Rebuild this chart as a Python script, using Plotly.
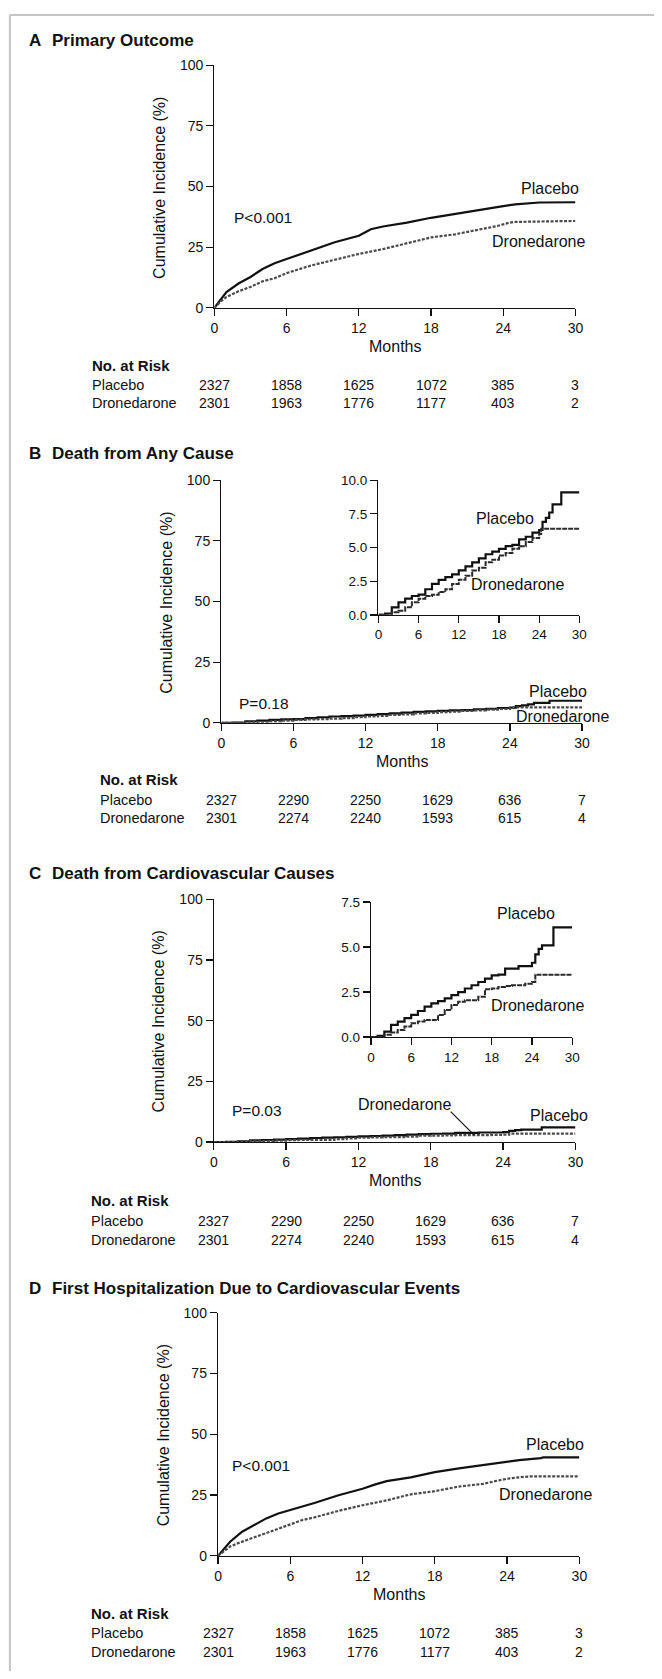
import plotly.graph_objects as go

# ---------------- data ----------------
month_ticks = [0, 6, 12, 18, 24, 30]
pct_ticks = [0, 25, 50, 75, 100]
inset_b_ticks = [0, 2.5, 5, 7.5, 10]
inset_b_text = ["0.0", "2.5", "5.0", "7.5", "10.0"]
inset_c_ticks = [0, 2.5, 5, 7.5]
inset_c_text = ["0.0", "2.5", "5.0", "7.5"]

# A: Primary outcome
a_plac_t = [0, 0.5, 1, 2, 3, 4, 5, 6, 8, 10, 12, 13, 14, 16, 18, 20, 22, 24, 25, 27, 30]
a_plac_v = [0, 3.3, 6.5, 10, 12.7, 16, 18.4, 20.1, 23.5, 27, 29.7, 32.4, 33.5, 35.1, 37.1, 38.8, 40.5, 41.9, 42.6, 43.4, 43.5]
a_dron_t = [0, 0.5, 1, 1.5, 2, 3, 4, 5, 6, 8, 10, 12, 14, 16, 18, 20, 22, 23.5, 24.5, 25, 30]
a_dron_v = [0, 2.5, 4.5, 5.8, 6.8, 8.6, 10.9, 12.2, 14.3, 17.4, 19.9, 22.2, 24.2, 26.7, 29, 30.3, 32.1, 33.7, 35.1, 35.4, 35.8]

# B: Death from any cause
b_plac_t = [0, 1, 2, 3, 4, 5, 6, 7, 8, 9, 10, 11, 12, 13, 14, 15, 16, 17, 18, 19, 20, 21, 22, 23, 24, 24.5, 25, 25.5, 26, 27.3, 30]
b_plac_v = [0, 0.1, 0.56, 0.93, 1.2, 1.4, 1.5, 1.9, 2.3, 2.6, 2.8, 3.0, 3.3, 3.6, 3.9, 4.2, 4.5, 4.7, 4.9, 5.1, 5.2, 5.6, 5.8, 6.1, 6.3, 6.9, 7.2, 7.6, 8.2, 9.1, 9.1]
b_dron_t = [0, 1, 2, 3, 4, 5, 6, 7, 8, 9, 10, 11, 12, 13, 14, 15, 16, 17, 18, 19, 20, 21, 22, 23, 24, 24.3, 30]
b_dron_v = [0, 0, 0.2, 0.3, 0.56, 0.93, 1.2, 1.4, 1.5, 1.7, 1.9, 2.3, 2.6, 2.9, 3.3, 3.5, 3.9, 4.1, 4.4, 4.6, 4.9, 5.1, 5.4, 5.7, 6.0, 6.4, 6.4]

# C: Death from cardiovascular causes
c_plac_t = [0, 1, 2, 3, 4, 5, 6, 7, 8, 9, 10, 11, 12, 13, 14, 15, 16, 17, 18, 19, 20, 22, 24, 24.5, 25, 25.5, 27.2, 30]
c_plac_v = [0, 0.07, 0.3, 0.68, 0.86, 1.05, 1.23, 1.45, 1.69, 1.87, 2.0, 2.15, 2.33, 2.5, 2.7, 2.88, 3.06, 3.25, 3.43, 3.47, 3.8, 3.94, 4.13, 4.6, 4.9, 5.1, 6.1, 6.1]
c_dron_t = [0, 2, 3, 4, 5, 6, 7, 8, 10, 11, 12, 13, 14, 16, 17, 18, 19, 20, 21, 23, 24, 24.5, 30]
c_dron_v = [0, 0.13, 0.26, 0.4, 0.59, 0.77, 0.86, 0.95, 1.23, 1.5, 1.78, 1.96, 2.05, 2.24, 2.66, 2.7, 2.79, 2.84, 2.88, 2.97, 3.06, 3.47, 3.47]

# D: First hospitalization due to CV events
d_plac_t = [0, 0.5, 1, 2, 3, 4, 5, 6, 8, 10, 12, 13, 14, 16, 18, 20, 22, 24, 25, 26.8, 27, 30]
d_plac_v = [0, 3, 5.8, 9.9, 12.6, 15.4, 17.4, 18.8, 21.7, 24.9, 27.6, 29.3, 30.7, 32.3, 34.4, 36, 37.4, 38.9, 39.4, 40.2, 40.5, 40.5]
d_dron_t = [0, 0.5, 1, 1.5, 2, 3, 4, 5, 6, 7, 8, 10, 12, 14, 16, 18, 20, 22, 23, 24, 25, 26, 30]
d_dron_v = [0, 2, 3.8, 4.9, 5.8, 7.6, 9.5, 11.3, 13, 14.7, 15.8, 18.5, 20.8, 22.8, 25.3, 26.6, 28.5, 29.6, 30.7, 31.7, 32.3, 32.7, 32.7]

# Numbers at risk
risk_ad_plac = [2327, 1858, 1625, 1072, 385, 3]
risk_ad_dron = [2301, 1963, 1776, 1177, 403, 2]
risk_bc_plac = [2327, 2290, 2250, 1629, 636, 7]
risk_bc_dron = [2301, 2274, 2240, 1593, 615, 4]

titles = ["Primary Outcome", "Death from Any Cause",
          "Death from Cardiovascular Causes",
          "First Hospitalization Due to Cardiovascular Events"]
letters = ["A", "B", "C", "D"]
pvalues = ["P<0.001", "P=0.18", "P=0.03", "P<0.001"]

# ---------------- layout helpers ----------------
W, H = 662, 1679
FONT = "Liberation Sans, Arial, sans-serif"
INK = "#111111"
DRON = "#4a4a4a"


def px(x):
    return x / W


def py(y):
    return 1 - y / H


fig = go.Figure()

plac_line = dict(color=INK, width=2.2)
dron_line = dict(color=DRON, width=2.2, dash="3px,1.5px")
dron_line_inset = dict(color="#2a2a2a", width=2.0, dash="5px,1px")


def add_pair(tp, vp, td, vd, xa, ya, shape, dline):
    fig.add_trace(go.Scatter(x=tp, y=vp, mode="lines", line=dict(plac_line, shape=shape),
                             xaxis=xa, yaxis=ya, showlegend=False, hoverinfo="skip"))
    fig.add_trace(go.Scatter(x=td, y=vd, mode="lines", line=dict(dline, shape=shape),
                             xaxis=xa, yaxis=ya, showlegend=False, hoverinfo="skip"))


add_pair(a_plac_t, a_plac_v, a_dron_t, a_dron_v, "x", "y", "linear", dron_line)
add_pair(b_plac_t, b_plac_v, b_dron_t, b_dron_v, "x2", "y2", "hv", dron_line)
add_pair(b_plac_t, b_plac_v, b_dron_t, b_dron_v, "x3", "y3", "hv", dron_line_inset)
add_pair(c_plac_t, c_plac_v, c_dron_t, c_dron_v, "x4", "y4", "hv", dron_line)
add_pair(c_plac_t, c_plac_v, c_dron_t, c_dron_v, "x5", "y5", "hv", dron_line_inset)
add_pair(d_plac_t, d_plac_v, d_dron_t, d_dron_v, "x6", "y6", "linear", dron_line)

axis_common = dict(showline=True, linecolor=INK, linewidth=1.3, ticks="outside", ticklen=7,
                   tickwidth=1.3, tickcolor=INK, showgrid=False, zeroline=False,
                   tickfont=dict(family=FONT, size=14, color=INK), fixedrange=True)

# main panels: (x_left, x_right, y_top, y_bottom) in pixels
panels = [(214.3, 582.0, 57.7, 302.7),
          (221.3, 588.7, 476.7, 721.7),
          (213.7, 582.0, 900.0, 1145.0),
          (218.0, 586.0, 1317.3, 1562.7)]
main_ids = ["", "2", "4", "6"]
insets = [("3", (381.3, 586.0, 476.7, 612.7), [0, 10], inset_b_ticks, inset_b_text),
          ("5", (373.7, 578.7, 902.7, 1039.0), [0, 7.5], inset_c_ticks, inset_c_text)]

layout_axes = {}
for (xl, xr, yt, yb), aid in zip(panels, main_ids):
    layout_axes["xaxis" + aid] = dict(axis_common, domain=[px(xl), px(xr)], anchor="y" + aid,
                                      range=[0, 30], tickvals=month_ticks)
    layout_axes["yaxis" + aid] = dict(axis_common, domain=[py(yb), py(yt)], anchor="x" + aid,
                                      range=[0, 100], tickvals=pct_ticks)
for aid, (xl, xr, yt, yb), rng, tv, tt in insets:
    layout_axes["xaxis" + aid] = dict(axis_common, domain=[px(xl), px(xr)], anchor="y" + aid,
                                      range=[0, 30], tickvals=month_ticks,
                                      tickfont=dict(family=FONT, size=13.5, color=INK))
    layout_axes["yaxis" + aid] = dict(axis_common, domain=[py(yb), py(yt)], anchor="x" + aid,
                                      range=rng, tickvals=tv, ticktext=tt,
                                      tickfont=dict(family=FONT, size=13.5, color=INK))

ann = []


def text(x, y, s, size, anchor="left", bold=False, angle=0):
    ann.append(dict(x=px(x), y=py(y), xref="paper", yref="paper", text=("<b>%s</b>" % s) if bold else s,
                    showarrow=False, xanchor=anchor, yanchor="middle", textangle=angle,
                    font=dict(family=FONT, size=size, color=INK)))


title_y = [32.7, 450.0, 873.5, 1292.7]
risk_x = [87.3, 95.7, 87.0, 86.6]
risk_rows = [(58, 77.5, 96.5), (57.3, 77.6, 96.0), (59, 79.5, 98.5), (58, 78, 97.3)]
risk_sets = [(risk_ad_plac, risk_ad_dron), (risk_bc_plac, risk_bc_dron),
             (risk_bc_plac, risk_bc_dron), (risk_ad_plac, risk_ad_dron)]

for i, ((xl, xr, yt, yb), aid) in enumerate(zip(panels, main_ids)):
    text(23, title_y[i], letters[i], 17, bold=True)
    text(47, title_y[i], titles[i], 17, bold=True)
    text(xl - 56, (yt + yb) / 2 + 1, "Cumulative Incidence (%)", 16, anchor="center", angle=-90)
    text((xl + xr) / 2, yb + 39, "Months", 16, anchor="center")
    r0, r1, r2 = risk_rows[i]
    text(risk_x[i], yb + r0, "No. at Risk", 15, bold=True)
    text(risk_x[i], yb + r1, "Placebo", 14.5)
    text(risk_x[i], yb + r2, "Dronedarone", 14.5)
    rp, rd = risk_sets[i]
    for m, vp, vd in zip(month_ticks, rp, rd):
        for v, off in ((vp, r1), (vd, r2)):
            ann.append(dict(x=m, y=py(yb + off), xref="x" + aid, yref="paper", text=str(v),
                            showarrow=False, xanchor="center", yanchor="middle",
                            font=dict(family=FONT, size=14, color=INK)))

# p-values
for (x, y), s in zip([(231.7, 212.0), (237.0, 701.7), (229.7, 1113.3), (229.7, 1471.7)], pvalues):
    text(x, y, s, 15.5)

# curve labels
for x, y, s in [(524.7, 182.3, "Placebo"), (495.0, 235.3, "Dronedarone"),
                (479.0, 515.7, "Placebo"), (473.7, 582.0, "Dronedarone"),
                (533.0, 690.0, "Placebo"), (519.7, 715.0, "Dronedarone"),
                (500.0, 914.3, "Placebo"), (493.7, 1007.3, "Dronedarone"),
                (358.0, 1106.7, "Dronedarone"), (533.7, 1118.3, "Placebo"),
                (529.7, 1450.0, "Placebo"), (502.0, 1501.0, "Dronedarone")]:
    text(x, y, s, 16)

# leader line from the Dronedarone label to its curve in panel C
ann.append(dict(x=21.6, y=2.9, xref="x4", yref="y4", text="", showarrow=True,
                ax=-25, ay=-25, axref="pixel", ayref="pixel", arrowhead=0,
                arrowwidth=1.2, arrowcolor=INK))

frame = [dict(type="line", xref="paper", yref="paper", x0=px(6), x1=px(6), y0=py(7), y1=0,
              line=dict(color="#c4c4c4", width=2)),
         dict(type="line", xref="paper", yref="paper", x0=px(6), x1=1, y0=py(7), y1=py(7),
              line=dict(color="#c4c4c4", width=2))]

fig.update_layout(width=W, height=H, margin=dict(l=0, r=0, t=0, b=0), autosize=False,
                  paper_bgcolor="white", plot_bgcolor="rgba(0,0,0,0)", showlegend=False,
                  font=dict(family=FONT, color=INK), annotations=ann, shapes=frame,
                  **layout_axes)

fig.write_html("out.html", config={"displayModeBar": False, "staticPlot": True},
               post_script="document.body.style.margin='0';document.body.style.overflow='hidden';")
